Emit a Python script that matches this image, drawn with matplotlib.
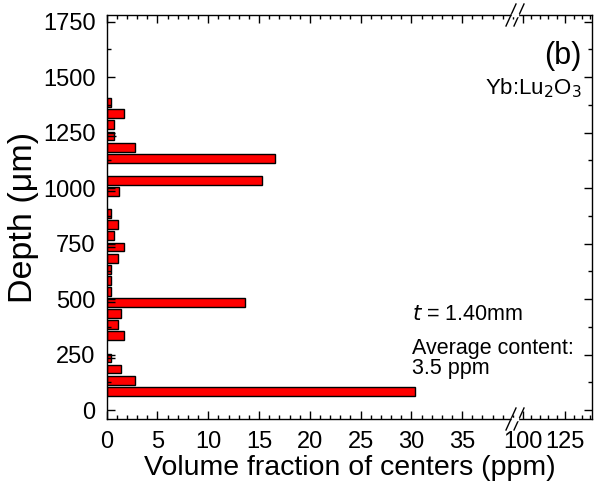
import matplotlib.pyplot as plt
from matplotlib.ticker import MultipleLocator

plt.rcParams['font.family'] = ['Liberation Sans', 'DejaVu Sans']

# depth of each slab (um) and volume fraction of centers (ppm)
depth = [85, 135, 185, 235, 335, 385, 435, 485, 535, 585, 635, 685,
         735, 785, 835, 885, 985, 1035, 1135, 1185, 1235, 1285, 1335, 1385]
fraction = [30.4, 2.75, 1.4, 0.42, 1.73, 1.08, 1.4, 13.6, 0.42, 0.42, 0.42, 1.08,
            1.73, 0.75, 1.08, 0.4, 1.2, 15.3, 16.6, 2.75, 0.75, 0.75, 1.73, 0.4]

# small black error marks seen inside some bars
err_depth = [235, 485, 735, 985, 1235]
err_end = [0.85, 0.85, 0.85, 0.85, 0.9]

yticks = [0, 250, 500, 750, 1000, 1250, 1500, 1750]
left_xticks = [0, 5, 10, 15, 20, 25, 30, 35]
right_xticks = [100, 125]

W, H = 602, 499
fig = plt.figure(figsize=(W / 100, H / 100), dpi=100)

x0, xb, x1 = 106.7, 515, 592
ytop, ybot = 15, 419
ax1 = fig.add_axes([x0 / W, 1 - ybot / H, (xb - x0) / W, (ybot - ytop) / H])
ax2 = fig.add_axes([xb / W, 1 - ybot / H, (x1 - xb) / W, (ybot - ytop) / H])

ax1.barh(depth, fraction, height=40, color='#ff0000', edgecolor='black', linewidth=1)
ax1.hlines(err_depth, 0, err_end, color='black', linewidth=1)

ax1.set_xlim(0, 40.2)
ax2.set_xlim(95.2, 141)
for ax in (ax1, ax2):
    ax.set_ylim(-40, 1780)
    ax.tick_params(which='both', direction='in', top=True, labelsize=17)
    ax.tick_params(which='major', length=6, width=1)
    ax.tick_params(which='minor', length=3, width=1)
    ax.yaxis.set_minor_locator(MultipleLocator(125))
    ax.set_yticks(yticks)
    for s in ax.spines.values():
        s.set_linewidth(1)

ax1.spines['right'].set_visible(False)
ax2.spines['left'].set_visible(False)
ax1.tick_params(which='both', right=False)
ax1.tick_params(axis='y', pad=8)
ax2.tick_params(which='both', left=False, right=True, labelleft=False)

ax1.set_xticks(left_xticks)
ax1.xaxis.set_minor_locator(MultipleLocator(1))
ax2.set_xticks(right_xticks)
ax2.xaxis.set_minor_locator(MultipleLocator(5))
ax1.tick_params(axis='x', pad=9)
ax2.tick_params(axis='x', pad=9)

fig.text(24 / W, 1 - 217 / H, 'Depth (\u03bcm)', fontsize=24.5, rotation=90,
         ha='center', va='center')
fig.text(350 / W, 1 - 468 / H, 'Volume fraction of centers (ppm)', fontsize=20.5,
         ha='center', va='center')

# break marks on top and bottom axis
for yy in (ybot, ytop):
    for dx in (-4, 4):
        fig.add_artist(plt.Line2D([(xb + dx - 5) / W, (xb + dx + 5) / W],
                                  [1 - (yy + 11) / H, 1 - (yy - 11) / H],
                                  color='black', linewidth=1))
    fig.add_artist(plt.Line2D([(xb - 2) / W, (xb + 2) / W], [1 - yy / H, 1 - yy / H],
                              color='white', linewidth=2.5))

fig.text(582 / W, 1 - 56 / H, '(b)', fontsize=22, ha='right', va='center')
fig.text(582 / W, 1 - 88 / H, 'Yb:Lu$_2$O$_3$', fontsize=16, ha='right', va='center')
fig.text(412 / W, 1 - 320 / H, '$t$ = 1.40mm', fontsize=15.5, ha='left', va='baseline')
fig.text(412 / W, 1 - 338 / H, 'Average content:\n3.5 ppm', fontsize=15.5,
         ha='left', va='top', linespacing=0.95)

fig.savefig('out.png', dpi=100)
